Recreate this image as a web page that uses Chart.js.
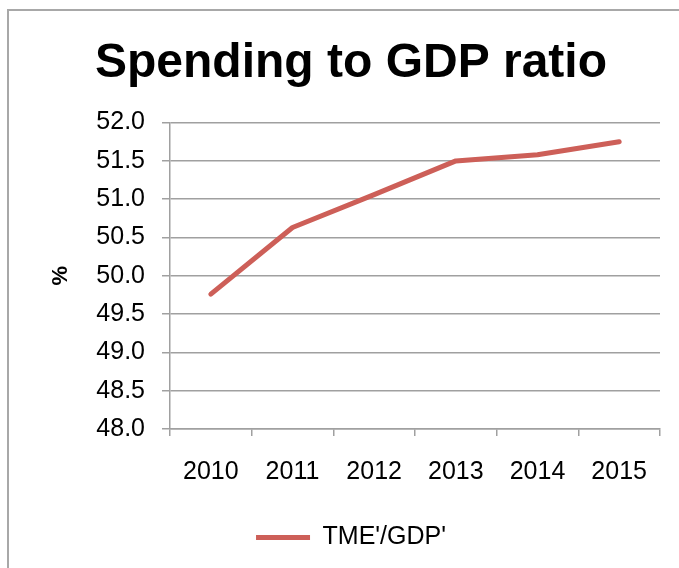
<!DOCTYPE html>
<html>
<head>
<meta charset="utf-8">
<script src="https://cdn.jsdelivr.net/npm/chart.js@4"></script>
<style>
  body { margin: 0; background: #fff; overflow: hidden; }
  #frame { position: absolute; left: 7px; top: 9px; width: 720px; height: 620px; border: 2px solid #a8a8a8; }
  #chart { position: absolute; left: 0; top: 0; }
</style>
</head>
<body>
<div id="frame"></div>
<canvas id="chart" width="679" height="568"></canvas>
<script>
// values
const years = ['2010', '2011', '2012', '2013', '2014', '2015'];
const tmeRatio = [49.76, 50.63, 51.06, 51.5, 51.58, 51.75];
const seriesName = "TME'/GDP'";
const titleText = 'Spending to GDP ratio';

const lineColor = '#cd5f58';
const gridColor = '#a0a0a0';
const font = 'Liberation Sans, Arial, sans-serif';

const canvas = document.querySelector('#chart');

new Chart(canvas.getContext('2d'), {
    type: 'line',
    data: {
        labels: years,
        datasets: [{
            label: seriesName,
            data: tmeRatio,
            borderColor: lineColor,
            backgroundColor: lineColor,
            borderWidth: 5,
            borderCapStyle: 'round',
            borderJoinStyle: 'round',
            pointRadius: 0,
            tension: 0
        }]
    },
    options: {
        responsive: false,
        animation: false,
        layout: { padding: { left: 42, right: 19, top: 0, bottom: 8 } },
        plugins: {
            title: {
                display: true,
                text: titleText,
                color: '#000',
                font: { family: font, size: 48, weight: 'bold', lineHeight: 1.2 },
                padding: { top: 35, bottom: 30 }
            },
            legend: {
                position: 'bottom',
                labels: {
                    color: '#000',
                    font: { family: font, size: 25 },
                    usePointStyle: true,
                    pointStyle: 'line',
                    pointStyleWidth: 54,
                    padding: 10
                }
            },
            tooltip: { enabled: false }
        },
        scales: {
            x: {
                offset: true,
                grid: {
                    offset: true,
                    drawOnChartArea: false,
                    drawTicks: true,
                    tickLength: 7,
                    color: gridColor,
                    lineWidth: 1.5
                },
                border: { color: gridColor, width: 1.5 },
                ticks: { color: '#000', font: { family: font, size: 25 }, padding: 21, maxRotation: 0 },
                afterFit: scale => { scale.height = 86; }
            },
            y: {
                min: 48,
                max: 52,
                grid: { color: gridColor, lineWidth: 1.5, tickLength: 8 },
                border: { color: gridColor, width: 1.5 },
                ticks: {
                    stepSize: 0.5,
                    color: '#000',
                    padding: 17,
                    font: { family: font, size: 25 },
                    callback: v => v.toFixed(1)
                },
                title: {
                    display: true,
                    text: '%',
                    color: '#000',
                    font: { family: font, size: 22, weight: 'bold' },
                    padding: { top: 6, bottom: 0 }
                },
                afterFit: scale => { scale.width = 128; }
            }
        }
    }
});
</script>
</body>
</html>
